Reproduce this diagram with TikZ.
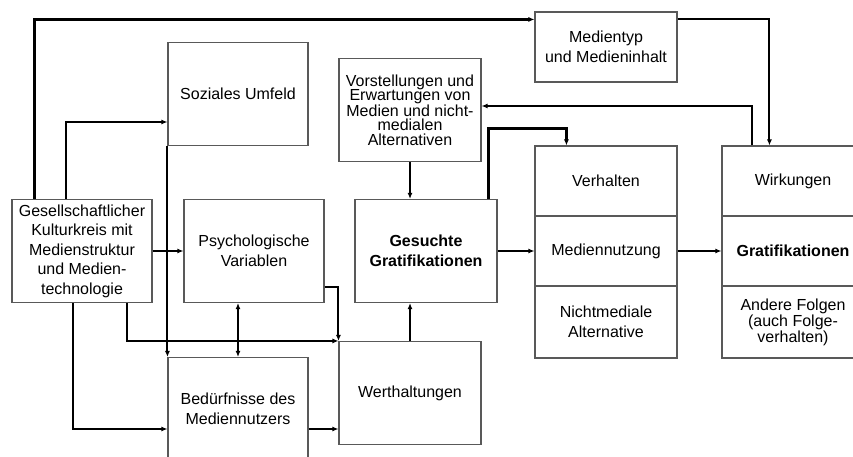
\documentclass[tikz,border=0pt]{standalone}
\usepackage{fontspec}
\setmainfont{Liberation Sans}
\usepackage{tikz}
\usetikzlibrary{positioning,arrows.meta,calc}

\begin{document}
\begin{tikzpicture}[
    x=1pt, y=-1pt,
    font=\fontsize{16}{19.5}\selectfont,
    box/.style={draw=black!65, line width=1.1pt, minimum width=140pt, minimum height=103pt,
                align=center, inner sep=2pt},
    cell/.style={box, minimum width=142pt, minimum height=70pt},
    tight/.style={font=\fontsize{16}{14.5}\selectfont},
    arr/.style={-{Latex[length=6pt,width=5pt]}, line width=2pt},
    tarr/.style={arr, line width=3pt},
    larr/.style={arr, line width=1.6pt},
]
% pixel frame of the reference: 853 x 457, y grows downwards
\clip (0,0) rectangle (853,457);
\fill[white] (0,0) rectangle (853,457);

% ---------------- left part ----------------
\node[box] (ges) at (82,251) {Gesellschaftlicher\\Kulturkreis mit\\Medienstruktur\\und Medien-\\technologie};
\node[box] (soz) at (238,94) {Soziales Umfeld};
\node[box] (psy) at (254,251) {Psychologische\\Variablen};
\node[box] (bed) at (238,409) {Bedürfnisse des\\Mediennutzers};

% ---------------- middle part ----------------
\node[box, tight, minimum width=142pt] (vor) at (410,110) {Vorstellungen und\\Erwartungen von\\Medien und nicht-\\medialen\\Alternativen};
\node[box, minimum width=142pt, font=\fontsize{16}{19.5}\selectfont\bfseries] (gs) at (426,251) {Gesuchte\\Gratifikationen};
\node[box, minimum width=142pt] (wert) at (410,393) {Werthaltungen};
\node[cell] (med) at (606,47) {Medientyp\\und Medieninhalt};

% ---------------- right columns ----------------
\node[cell] (vh1) at (606,181) {Verhalten};
\node[cell] (vh2) at (606,251) {Mediennutzung};
\node[cell, minimum height=72pt] (vh3) at (606,322) {Nichtmediale\\Alternative};
\node[cell] (wk1) at (793,181) {Wirkungen};
\node[cell, font=\fontsize{16}{19.5}\selectfont\bfseries] (wk2) at (793,251) {Gratifikationen};
\node[cell, tight, minimum height=72pt] (wk3) at (793,322) {Andere Folgen\\(auch Folge-\\verhalten)};

% ---------------- connectors ----------------
\draw[tarr] ([xshift=23]ges.north west) |- ([yshift=-8]med.north west);
\draw[arr] ([yshift=-8]med.north east) -| ([xshift=48]wk1.north west);
\draw[arr] ([xshift=31]wk1.north west) |- ([yshift=4]vor.east);
\draw[tarr] ([xshift=-9]gs.north east) -- ++(0,-70) -| ([xshift=32]vh1.north west);
\draw[arr] ([xshift=55]ges.north west) |- ([yshift=-28]soz.west);
\draw[arr] (soz.south west) -- (bed.north west);
\draw[larr] (ges.east) -- (psy.west);
\draw[larr] (vor.south) -- (vor.south |- gs.north);
\draw[arr] ([xshift=62]ges.south west) |- ([yshift=-20]bed.west);
\draw[arr] ([xshift=116]ges.south west) |- (wert.north west);
\draw[arr] ([yshift=-36]psy.east) -| (wert.north west);
\draw[arr, {Latex[length=6pt,width=5pt]}-{Latex[length=6pt,width=5pt]}] (bed.north |- psy.south) -- (bed.north);
\coordinate (bo) at ([yshift=-20]bed.east);
\draw[larr] (bo) -- (bo -| wert.west);
\draw[larr] (wert.north) -- (wert.north |- gs.south);
\draw[larr] (gs.east) -- (vh2.west);
\draw[larr] (vh2.east) -- (wk2.west);
\end{tikzpicture}
\end{document}
